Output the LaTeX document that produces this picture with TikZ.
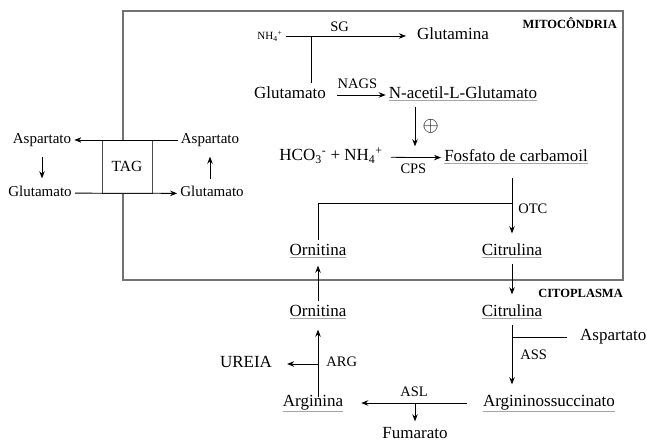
\documentclass[tikz,border=0pt]{standalone}
\usepackage{fontspec}
\setmainfont{Liberation Serif}
\usepackage{tikz}
\usetikzlibrary{arrows, arrows.meta, positioning, calc}
\newcommand{\metab}[1]{{\color{black!35}\underline{\color{black}#1}}}
\tikzstyle{metabolite} = [inner sep=3pt, text height=12pt, text depth=5pt, font=\fontsize{17}{20}\selectfont]
\tikzstyle{substrate} = [inner sep=3pt, text height=11pt, text depth=4pt, font=\fontsize{15}{18}\selectfont]
\tikzstyle{enzyme} = [inner sep=2pt, font=\fontsize{14.5}{17}\selectfont]
\tikzstyle{compartment} = [inner sep=0pt, font=\fontsize{12.5}{15}\selectfont\bfseries]
\tikzstyle{transporter} = [rectangle, draw=black!70, fill=white, line width=0.8pt, minimum width=50pt, minimum height=53pt, font=\fontsize{15.5}{18}\selectfont]
\tikzstyle{arrow} = [line width=0.8pt,-{Stealth[length=7pt, width=5.5pt]}]
\tikzstyle{branch} = [line width=0.8pt]
\tikzstyle{membrane} = [draw=black!55, line width=1.4pt]

\begin{document}
\begin{tikzpicture}[x=1pt, y=1pt, node distance=60pt]
        \useasboundingbox (0,0) rectangle (647,-443);
        % mitochondrion
        \coordinate (mitotr) at (623,-11);
        \coordinate (mitobr) at (623,-280);
        \draw [membrane] (123,-11) rectangle (mitobr);
        \node (mito) [compartment, anchor=base east] at ($(mitotr)+(-6,-17.3)$) {MITOCÔNDRIA};
        \node (cito) [compartment, anchor=base east] at ($(mitobr)+(0,-17.3)$) {CITOPLASMA};

        \node (glutamato) [metabolite] at (290,-95) {Glutamato};
        \node (nh4) [metabolite, font=\fontsize{11}{13}\selectfont, above of=glutamato, xshift=-20pt, yshift=-1pt] {NH\textsubscript{4}\textsuperscript{+}};
        \node (glutamina) [metabolite, right of=nh4, xshift=123pt] {Glutamina};
        \node (nag) [metabolite, right of=glutamato, xshift=113pt] {\metab{N-acetil-L-Glutamato}};
        \node (hco) [metabolite, below of=glutamato, xshift=41pt, yshift=-2pt] {HCO\textsubscript{3}\textsuperscript{-} + NH\textsubscript{4}\textsuperscript{+}};
        \node (fosfato) [metabolite, right of=hco, xshift=125pt, yshift=-1pt] {\metab{Fosfato de carbamoil}};
        \node (citrulina1) [metabolite, below of=fosfato, xshift=-4pt, yshift=-34pt] {\metab{Citrulina}};
        \node (ornitina1) [metabolite, left of=citrulina1, xshift=-134pt] {\metab{Ornitina}};
        \node (citrulina2) [metabolite, below of=citrulina1, yshift=-1pt] {\metab{Citrulina}};
        \node (ornitina2) [metabolite, below of=ornitina1, yshift=-1pt] {\metab{Ornitina}};
        \node (arginina) [metabolite, below of=ornitina2, xshift=-5pt, yshift=-30pt] {\metab{Arginina}};
        \node (argsucc) [metabolite, right of=arginina, xshift=176pt] {\metab{Argininossuccinato}};
        \node (fumarato) [metabolite, below of=arginina, xshift=102pt, yshift=28pt] {Fumarato};
        \node (ureia) [metabolite, left of=arginina, xshift=-7pt, yshift=39pt] {UREIA};
        \node (aspartato) [metabolite, right of=citrulina2, anchor=west, xshift=5pt, yshift=-24pt] {Aspartato};

        % shuttle
        \node (tag) [transporter, left of=hco, xshift=-144pt, yshift=-9.5pt] {TAG};
        \node (asp_l) [substrate, left of=tag, xshift=-25pt, yshift=26.5pt] {Aspartato};
        \node (glu_l) [substrate, left of=tag, xshift=-27pt, yshift=-26.5pt] {Glutamato};
        \node (asp_r) [substrate, right of=tag, xshift=23pt, yshift=26.5pt] {Aspartato};
        \node (glu_r) [substrate, right of=tag, xshift=25pt, yshift=-27pt] {Glutamato};

        \draw [arrow] (asp_r) -- (asp_l);
        \draw [arrow] (glu_l) -- (glu_r);
        \draw [arrow, shorten <=6pt, shorten >=4pt] (asp_l.south) -- (asp_l.south |- glu_l.north);
        \draw [arrow, shorten <=4pt, shorten >=6pt] (asp_r |- glu_r.north) -- (asp_r.south);

        \coordinate (sgjoin) at ([xshift=26pt]nh4.east);
        \draw [arrow, shorten >=8pt] (nh4) -- node (sg) [enzyme, above, pos=0.42, yshift=2pt] {SG} (glutamina);
        \draw [branch] (glutamato.north -| sgjoin) -- (sgjoin);
        \draw [arrow, shorten <=8pt] (glutamato) -- node (nags) [enzyme, above, yshift=4pt] {NAGS} (nag);
        \draw [arrow] ([xshift=-48pt]nag.south) -- node (act) [right=4pt, font=\fontsize{22}{24}\selectfont] {$\oplus$} ([xshift=-48pt]nag.south |- fosfato.north);
        \draw [arrow, shorten <=5pt] (hco) -- node (cps) [enzyme, below, yshift=-4pt] {CPS} (fosfato);

        \coordinate (otcjoin) at ([yshift=49pt]citrulina1.center);
        \draw [arrow, shorten <=8pt, shorten >=7pt] (citrulina1 |- fosfato.south) -- node (otc) [enzyme, right=4pt, pos=0.55] {OTC} (citrulina1);
        \draw [branch] (ornitina1.north) |- (otcjoin);
        \draw [arrow, shorten >=7pt] (citrulina1) -- (citrulina2);
        \draw [arrow, shorten >=2pt] (ornitina2) -- (ornitina1);

        \draw [arrow, shorten <=-6pt, shorten >=5pt] (ornitina2 |- arginina.north) -- node (arg) [enzyme, right=6pt, pos=0.45] {ARG} (ornitina2);
        \draw [arrow, shorten >=12pt] (ornitina2 |- ureia) -- (ureia);
        \draw [arrow, shorten >=7pt] (citrulina2) -- node (ass) [enzyme, right=6pt, pos=0.45] {ASS} (citrulina2 |- argsucc.north);
        \draw [branch, shorten <=10pt] (aspartato) -- (citrulina2 |- aspartato);
        \draw [arrow] ([xshift=-13pt]argsucc.west) -- node (asl) [enzyme, above, yshift=4pt] {ASL} ([xshift=15pt]arginina.east);
        \draw [arrow, shorten >=2pt] (fumarato |- argsucc) -- (fumarato);
\end{tikzpicture}
\end{document}
